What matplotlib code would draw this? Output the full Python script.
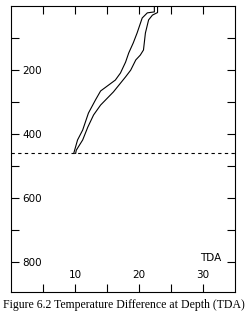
import matplotlib
matplotlib.use('Agg')
import matplotlib.pyplot as plt

# depth (m) vs temperature difference
left_depth = [0, 20, 23, 39, 86, 117, 148, 177, 211, 233, 267, 295, 336, 389, 420, 462]
left_tda = [22.4, 22.4, 21.3, 20.5, 19.7, 19.1, 18.4, 17.9, 17.1, 16.3, 14.0, 13.2, 12.1, 11.2, 10.4, 9.8]

right_depth = [0, 22, 30, 45, 86, 139, 155, 170, 202, 223, 270, 311, 342, 380, 420, 452, 462]
right_tda = [22.9, 22.9, 22.1, 21.5, 21.0, 20.7, 20.2, 19.5, 18.7, 17.9, 16.0, 14.0, 12.9, 12.0, 11.2, 10.2, 10.1]

limit_depth = 462

x_ticks = [5, 10, 15, 20, 25, 30]
x_labels = ['', '10', '', '20', '', '30']
y_ticks = [100, 200, 300, 400, 500, 600, 700, 800]
y_labels = ['', '200', '', '400', '', '600', '', '800']

fig = plt.figure(figsize=(2.47, 3.19), dpi=100)
ax = fig.add_axes([11 / 247, 1 - 292 / 319, 224 / 247, 286.5 / 319])

ax.plot(left_tda, left_depth, color='black', lw=0.8)
ax.plot(right_tda, right_depth, color='black', lw=0.8)
ax.axhline(limit_depth, color='black', lw=0.8, linestyle=(0, (3, 3)))

ax.set_xlim(0, 35)
ax.set_ylim(895, 0)

ax.set_xticks(x_ticks)
ax.set_xticklabels(x_labels)
ax.set_yticks(y_ticks)
ax.set_yticklabels(y_labels)

ax.tick_params(axis='both', direction='in', length=5.8, width=0.8,
               labelsize=7.5, top=True, right=True)
ax.tick_params(axis='y', pad=-8)
ax.tick_params(axis='x', pad=-8.5)
for lbl in ax.get_yticklabels():
    lbl.set_ha('left')
for lbl in ax.get_xticklabels():
    lbl.set_va('bottom')

for s in ax.spines.values():
    s.set_linewidth(0.8)

ax.text(32.8, 790, 'TDA', ha='right', va='center', fontsize=7.5)

fig.text(0.5, 1 - 305 / 319, 'Figure 6.2 Temperature Difference at Depth (TDA)',
         ha='center', va='center', fontsize=8.5, family='Liberation Serif')

fig.savefig('out.png', dpi=100)
